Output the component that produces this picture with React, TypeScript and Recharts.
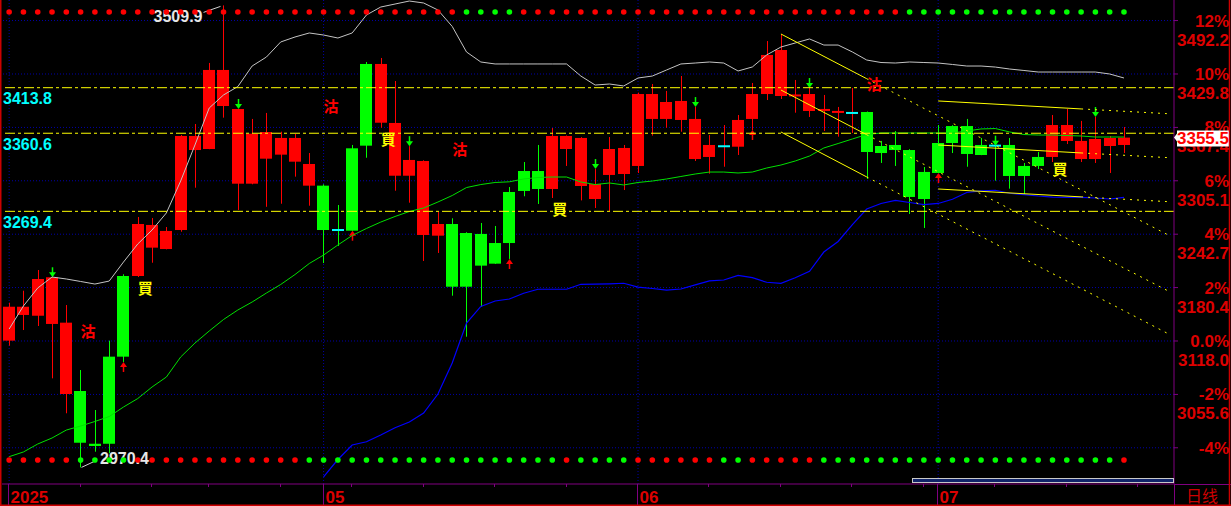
import React from "react";
import { ComposedChart, Bar, Line, XAxis, YAxis, ReferenceLine } from "recharts";

// daily candles, oldest first
const OPEN = [
  3118.4, 3148.4, 3147.5, 3137.9, 3056.1, 3059.6, 2998.0, 3099.7, 3193.9, 3193.9,
  3227.0, 3225.4, 3247.6, 3341.0, 3342.2, 3392.4, 3301.7, 3301.7, 3330.9, 3335.6,
  3327.4, 3299.4, 3299.4, 3247.6, 3343.0, 3441.5, 3372.9, 3311.0, 3311.0, 3241.8,
  3241.0, 3254.6, 3244.1, 3243.0, 3232.4, 3292.0, 3316.5, 3316.5, 3295.5, 3342.2,
  3299.0, 3283.8, 3311.9, 3313.0, 3322.4, 3377.3, 3377.3, 3376.1, 3330.5, 3332.9,
  3345.4, 3344.9, 3377.3, 3406.4, 3404.1, 3404.0, 3386.6, 3387.0, 3384.8, 3384.3,
  3385.4, 3345.7, 3346.9, 3341.0, 3315.4, 3349.2, 3369.0, 3369.0, 3346.9, 3346.1,
  3346.9, 3322.4, 3332.9, 3332.9, 3351.6, 3330.5, 3330.5, 3345.7, 3346.9,
];
const HIGH = [
  3162.7, 3176.7, 3200.9, 3192.4, 3160.0, 3084.1, 3037.4, 3118.4, 3195.9, 3262.8,
  3261.6, 3251.1, 3358.6, 3371.4, 3442.7, 3509.9, 3388.9, 3377.3, 3384.3, 3362.4,
  3359.7, 3337.5, 3301.0, 3276.8, 3346.9, 3443.8, 3448.5, 3421.6, 3345.5, 3329.0,
  3268.6, 3261.3, 3245.0, 3255.8, 3252.3, 3297.8, 3327.0, 3346.9, 3366.7, 3358.0,
  3356.0, 3318.8, 3356.2, 3346.9, 3408.0, 3418.1, 3410.0, 3427.5, 3391.2, 3358.6,
  3370.2, 3381.9, 3419.3, 3468.3, 3476.5, 3422.8, 3413.4, 3405.3, 3391.3, 3413.5,
  3386.0, 3351.6, 3363.2, 3342.0, 3321.2, 3370.2, 3370.0, 3377.3, 3355.1, 3346.1,
  3355.1, 3325.9, 3338.7, 3381.9, 3388.9, 3375.0, 3379.6, 3357.4, 3367.9,
];
const LOW = [
  3112.5, 3130.8, 3135.5, 3074.4, 3033.6, 2970.4, 2988.7, 2986.9, 3093.5, 3192.7,
  3209.4, 3225.0, 3245.6, 3297.0, 3342.0, 3378.8, 3271.0, 3301.0, 3274.7, 3278.3,
  3309.9, 3276.0, 3209.0, 3229.0, 3246.8, 3332.0, 3367.0, 3293.5, 3279.5, 3211.4,
  3220.8, 3170.9, 3123.0, 3158.0, 3208.0, 3213.8, 3287.0, 3278.0, 3285.0, 3322.4,
  3282.2, 3273.3, 3269.8, 3294.3, 3314.2, 3357.8, 3367.0, 3362.4, 3328.2, 3313.4,
  3321.5, 3335.2, 3364.4, 3399.4, 3400.6, 3384.6, 3379.6, 3363.2, 3356.6, 3360.9,
  3307.2, 3325.9, 3322.4, 3266.3, 3250.0, 3314.2, 3337.5, 3321.5, 3335.0, 3305.2,
  3295.9, 3289.7, 3318.9, 3327.0, 3348.0, 3327.0, 3325.9, 3314.2, 3337.5,
];
const CLOSE = [
  3158.0, 3158.0, 3190.4, 3192.4, 3139.4, 2999.2, 2995.4, 2998.0, 3099.7, 3254.6,
  3253.5, 3246.5, 3357.4, 3357.4, 3434.5, 3434.5, 3388.9, 3360.1, 3362.0, 3355.1,
  3355.1, 3324.7, 3247.6, 3247.6, 3246.8, 3346.1, 3441.5, 3372.6, 3329.4, 3328.2,
  3254.6, 3181.4, 3181.4, 3206.0, 3208.3, 3232.4, 3293.2, 3295.5, 3357.4, 3357.4,
  3355.1, 3301.3, 3342.2, 3343.4, 3406.4, 3406.4, 3397.1, 3398.3, 3377.3, 3346.9,
  3345.4, 3376.1, 3406.4, 3452.0, 3457.8, 3405.5, 3406.4, 3388.6, 3386.2, 3384.3,
  3338.7, 3337.5, 3341.0, 3286.2, 3283.8, 3314.2, 3349.2, 3336.4, 3335.2, 3346.1,
  3310.7, 3310.7, 3322.4, 3370.2, 3370.2, 3351.6, 3353.9, 3355.1, 3355.5,
];
// r red, g green, R cyan body + red wick, G cyan body + green wick
const CANDLE_COLOR = ["rrrrrggggr", "rrrrrrrrrr", "rrgGggrrrr", "rgggggggrr", "rrrrrrrrrr", "RrrrrrrrrR", "gggggggggG", "gggrrrrrr"];

const UPPER = [
  3132.0, 3158.9, 3179.9, 3192.7, 3190.4, 3187.5, 3184.5, 3188.0, 3210.2, 3231.3,
  3247.6, 3267.5, 3304.8, 3346.9, 3390.1, 3405.3, 3415.1, 3439.1, 3449.6, 3467.2,
  3473.0, 3477.7, 3475.3, 3471.8, 3477.7, 3498.7, 3508.0, 3511.5, 3515.0, 3512.7,
  3504.5, 3485.3, 3455.5, 3443.8, 3441.5, 3441.5, 3441.5, 3441.5, 3441.5, 3441.5,
  3427.4, 3416.9, 3418.1, 3415.8, 3425.1, 3427.4, 3434.5, 3441.5, 3442.6, 3443.8,
  3442.6, 3433.3, 3438.0, 3452.0, 3461.3, 3466.0, 3470.7, 3463.6, 3463.6, 3455.5,
  3446.1, 3443.2, 3442.6, 3443.8, 3443.2, 3442.6, 3440.9, 3439.1, 3439.1, 3437.9,
  3435.6, 3433.9, 3432.1, 3432.1, 3432.1, 3432.1, 3432.1, 3429.8, 3425.1,
];
const MID = [
  2982.9, 2988.4, 2997.7, 3004.7, 3014.0, 3018.7, 3024.0, 3029.8, 3040.9, 3050.8,
  3064.3, 3075.9, 3099.3, 3115.6, 3129.7, 3143.1, 3154.2, 3163.5, 3174.0, 3184.0,
  3195.6, 3208.5, 3218.4, 3230.1, 3241.2, 3249.4, 3256.9, 3263.4, 3269.2, 3273.3,
  3280.3, 3287.9, 3297.2, 3300.7, 3303.1, 3303.9, 3307.2, 3308.9, 3309.5, 3309.5,
  3303.7, 3300.7, 3302.5, 3300.2, 3303.1, 3304.8, 3307.2, 3310.1, 3313.0, 3315.3,
  3315.3, 3314.2, 3315.3, 3320.0, 3323.5, 3328.2, 3334.0, 3343.4, 3348.6, 3353.9,
  3359.1, 3360.9, 3360.9, 3360.9, 3360.9, 3360.9, 3360.9, 3363.2, 3365.6, 3366.1,
  3362.1, 3359.1, 3358.5, 3358.5, 3357.9, 3357.4, 3356.2, 3356.2, 3356.2,
];
const LOWER = [
  null, null, null, null, null, null, null, null, null, null,
  null, null, null, null, null, null, null, null, null, null,
  null, null, 2959.2, 2979.6, 2996.5, 3000.3, 3008.2, 3016.7, 3023.4, 3033.9,
  3056.1, 3092.3, 3139.0, 3158.3, 3164.7, 3167.0, 3173.8, 3178.4, 3178.4, 3178.4,
  3184.2, 3184.5, 3184.8, 3185.4, 3181.0, 3179.3, 3177.5, 3178.7, 3183.6, 3188.1,
  3189.2, 3194.7, 3191.9, 3186.6, 3185.4, 3191.9, 3199.4, 3221.9, 3234.2, 3254.0,
  3272.1, 3278.6, 3282.3, 3279.7, 3277.2, 3278.6, 3283.5, 3291.4, 3293.2, 3294.0,
  3290.5, 3288.9, 3287.3, 3286.1, 3285.8, 3285.8, 3285.0, 3283.8, 3285.8,
];

// signal rows at top and bottom of the panel
const TOP_SIGNAL = ["rrrrrrrrrr", "rrrrrrrrrr", "rrrrrrrrrr", "rrggggrrrr", "rrrrrrrrrr", "rrrrrrrrrr", "rrrggggggg", "ggggggggg"];
const BOTTOM_SIGNAL = ["rrrrrggggr", "rrrrrrrrrr", "rggggggggg", "gggggggggr", "ggggrrrrrr", "ggrrrrrggg", "gggggggggg", "ggggggggr"];
const SIGNAL_TOP = 3502.2;
const SIGNAL_BOTTOM = 2979.0;

const DOWN_ARROWS = [3, 16, 28, 41, 48, 56, 69, 76];
const UP_ARROWS = [8, 24, 35, 52, 65];
const SELL_MARKS = [{ i: 5, p: 3129.7 }, { i: 22, p: 3392.4 }, { i: 31, p: 3342.2 }, { i: 60, p: 3418.1 }];
const BUY_MARKS = [{ i: 9, p: 3179.9 }, { i: 26, p: 3353.9 }, { i: 38, p: 3272.1 }, { i: 73, p: 3318.8 }];

const LEVELS = [3413.8, 3360.6, 3269.4];
const TREND_SOLID = [
  [[54, 3476.5], [60, 3424.3]],
  [[54, 3411.1], [60, 3358.9]],
  [[54, 3362.1], [60, 3309.6]],
  [[65, 3398.3], [75, 3389.0]],
  [[65, 3346.9], [75, 3337.6]],
  [[65, 3295.5], [75, 3286.3]],
];
const TREND_DOTTED = [
  [[60, 3424.3], [81, 3242.6]],
  [[60, 3358.9], [81, 3177.2]],
  [[60, 3309.6], [81, 3127.3]],
  [[75, 3389.0], [81, 3383.5]],
  [[75, 3337.6], [81, 3332.2]],
  [[75, 3286.3], [81, 3280.8]],
];

const AXIS_TICKS = [2993.3, 3055.6, 3118.0, 3180.4, 3242.7, 3305.1, 3367.4, 3429.8, 3492.2];
const PCT_LABELS = ["-4%", "-2%", "0.0%", "2%", "4%", "6%", "8%", "10%", "12%"];
const PRICE_LABELS = ["", "3055.6", "3118.0", "3180.4", "3242.7", "3305.1", "3367.4", "3429.8", "3492.2"];
const MONTH_TICKS = [{ i: 0, label: "2025" }, { i: 22, label: "05" }, { i: 44, label: "06" }, { i: 65, label: "07" }];
const WEEK_TICKS = [5, 10, 14, 19, 24, 29, 34, 39, 49, 54, 59, 64, 69, 74, 79];

const SLOTS = 82;
const W = 1231;
const H = 506;
const RED = "#ff0000";
const GREEN = "#00ff00";
const CYAN = "#00ffff";
const YELLOW = "#ffff00";
const PURPLE = "#800080";
const GRID = "#0000a8";
const AXIS_RED = "#dd0000";
const NUM_FONT = "'Liberation Sans', Arial, sans-serif";
const CJK_FONT = "'Noto Sans CJK SC', sans-serif";

const colorSeq = CANDLE_COLOR.join("");
const topSeq = TOP_SIGNAL.join("");
const botSeq = BOTTOM_SIGNAL.join("");
const HI_IDX = HIGH.indexOf(Math.max(...HIGH));
const LO_IDX = LOW.indexOf(Math.min(...LOW));
const LAST = CLOSE[CLOSE.length - 1];

const rows = Array.from({ length: SLOTS }, (_, i) => {
  if (i >= OPEN.length) return { i };
  const s = SELL_MARKS.find((m) => m.i === i);
  const b = BUY_MARKS.find((m) => m.i === i);
  return {
    i,
    o: OPEN[i], h: HIGH[i], l: LOW[i], c: CLOSE[i], col: colorSeq[i],
    upper: UPPER[i], mid: MID[i], lower: LOWER[i],
    top: topSeq[i], bot: botSeq[i],
    sell: s ? s.p : null, buy: b ? b.p : null,
    down: DOWN_ARROWS.includes(i), up: UP_ARROWS.includes(i),
  };
});

function Candle(props: any) {
  const { x, y, width, height, payload } = props;
  if (!payload || payload.h == null || !(height > 0)) return <g />;
  const { o, h, l, c, col, i } = payload;
  const k = height / (h - l);
  const left = Math.round(x);
  const w = Math.round(width);
  const cx = left + Math.floor(w / 2) + 0.5;
  const yO = y + (h - o) * k;
  const yC = y + (h - c) * k;
  let top = Math.min(yO, yC);
  let bh = Math.abs(yO - yC);
  const doji = col === "R" || col === "G";
  if (doji) {
    top -= 1;
    bh = 2;
  } else if (bh < 2) {
    top -= (2 - bh) / 2;
    bh = 2;
  }
  const bodyFill = col === "r" ? RED : col === "g" ? GREEN : CYAN;
  const wick = col === "r" || col === "R" ? RED : GREEN;
  const yLow = y + height;
  return (
    <g>
      <line x1={cx} x2={cx} y1={y} y2={yLow} stroke={wick} strokeWidth={1} />
      <rect x={left} y={top} width={w} height={bh} fill={bodyFill} />
      {payload.down && (
        <g>
          <line x1={cx} x2={cx} y1={y - 10} y2={y - 3} stroke={GREEN} strokeWidth={1.5} />
          <polygon points={`${cx - 3.5},${y - 5} ${cx + 3.5},${y - 5} ${cx},${y}`} fill={GREEN} />
        </g>
      )}
      {payload.up && (
        <g>
          <line x1={cx} x2={cx} y1={yLow + 3} y2={yLow + 10} stroke={RED} strokeWidth={1.5} />
          <polygon points={`${cx - 3.5},${yLow + 5} ${cx + 3.5},${yLow + 5} ${cx},${yLow}`} fill={RED} />
        </g>
      )}
      {i === HI_IDX && (
        <g>
          <line x1={cx - 3} y1={y + 1} x2={cx - 20} y2={y + 7} stroke="#d0d0d0" />
          <text x={cx - 21} y={y + 16.5} textAnchor="end" fill="#e6e6e6" fontSize={16} fontWeight={700} fontFamily={NUM_FONT}>
            {h.toFixed(1)}
          </text>
        </g>
      )}
      {i === LO_IDX && (
        <g>
          <line x1={cx + 1} y1={yLow} x2={cx + 16} y2={yLow - 7} stroke="#d0d0d0" />
          <text x={cx + 19.5} y={yLow - 3.5} fill="#e6e6e6" fontSize={16} fontWeight={700} fontFamily={NUM_FONT}>
            {l.toFixed(1)}
          </text>
        </g>
      )}
    </g>
  );
}

const glyphDot = (ch: string, color: string) => (p: any) => {
  if (p.cy == null || p.value == null || isNaN(p.cy)) return <g key={p.index} />;
  return (
    <text key={p.index} x={p.cx} y={p.cy + 5.7} fill={color} fontSize={15} fontWeight={700} fontFamily={CJK_FONT}>
      {ch}
    </text>
  );
};

const signalDot = (field: "top" | "bot") => (p: any) => {
  const s = p.payload ? p.payload[field] : null;
  if (!s || p.cy == null || isNaN(p.cy)) return <g key={p.index} />;
  return <circle key={p.index} cx={p.cx} cy={p.cy} r={2.8} fill={s === "g" ? GREEN : RED} />;
};

const levelLabel = (text: string) => (p: any) => {
  const vb = p.viewBox || {};
  return (
    <text x={vb.x + 1} y={vb.y + 16.5} fill={CYAN} fontSize={16} fontWeight={700} fontFamily={NUM_FONT}>
      {text}
    </text>
  );
};

function PriceTick(p: any) {
  const v = p.payload.value;
  const y = p.y;
  if (v === LAST) {
    // current price flag, drawn after the scale labels so it covers them
    return (
      <g>
        <polygon
          points={`1174,${y} 1177,${y - 4} 1177,${y - 7} 1230,${y - 7} 1230,${y + 9} 1177,${y + 9} 1177,${y + 4}`}
          fill="#ffffff"
        />
        <text x={1229} y={y + 6.4} textAnchor="end" fill={RED} fontSize={17} fontWeight={700} fontFamily={NUM_FONT}>
          {LAST.toFixed(1)}
        </text>
      </g>
    );
  }
  let idx = 0;
  AXIS_TICKS.forEach((t, j) => {
    if (Math.abs(t - v) < Math.abs(AXIS_TICKS[idx] - v)) idx = j;
  });
  return (
    <g fontFamily={NUM_FONT} fontWeight={700} fontSize={17} fill={AXIS_RED}>
      <text x={1229} y={y + 6} textAnchor="end">{PCT_LABELS[idx]}</text>
      {PRICE_LABELS[idx] && (
        <text x={1229} y={y + 25} textAnchor="end">{PRICE_LABELS[idx]}</text>
      )}
    </g>
  );
}

function DateTick(p: any) {
  const { x, y, payload } = p;
  const m = MONTH_TICKS.find((t) => t.i === payload.value);
  const lx = Math.round(x) - 0.5;
  if (m) {
    return (
      <g>
        <line x1={lx} x2={lx} y1={y} y2={H} stroke={PURPLE} />
        <text x={lx + 2} y={503} fill={AXIS_RED} fontSize={17} fontWeight={700} fontFamily={NUM_FONT}>
          {m.label}
        </text>
      </g>
    );
  }
  return <line x1={lx} x2={lx} y1={y} y2={y + 3} stroke={PURPLE} />;
}

export default function App() {
  return (
    <div style={{ position: "absolute", left: 0, top: 0, width: W, height: H, background: "#000" }}>
      <ComposedChart width={W} height={H} data={rows} margin={{ top: 0, right: 0, bottom: 0, left: 2 }}>
        <XAxis
          dataKey="i"
          type="category"
          height={22}
          ticks={[...MONTH_TICKS.map((m) => m.i), ...WEEK_TICKS].sort((a, b) => a - b)}
          interval={0}
          tickLine={false}
          tickSize={0}
          tickMargin={0}
          axisLine={{ stroke: PURPLE }}
          tick={(p: any) => <DateTick {...p} />}
        />
        <YAxis
          orientation="right"
          width={57}
          type="number"
          domain={[2951.0, 3516.2]}
          allowDataOverflow
          ticks={[...AXIS_TICKS, LAST]}
          interval={0}
          tickSize={4}
          tickLine={{ stroke: PURPLE }}
          axisLine={{ stroke: PURPLE }}
          tick={(p: any) => <PriceTick {...p} />}
        />
        {AXIS_TICKS.map((v) => (
          <ReferenceLine key={"g" + v} y={v} stroke={GRID} strokeDasharray="1 2" zIndex={-50} />
        ))}
        {MONTH_TICKS.map((m) => (
          <ReferenceLine key={"m" + m.i} x={m.i} stroke={GRID} strokeDasharray="1 2" zIndex={-50} />
        ))}
        <Line dataKey="sell" stroke="none" dot={glyphDot("沽", RED)} activeDot={false} isAnimationActive={false} zIndex={250} />
        <Line dataKey="buy" stroke="none" dot={glyphDot("買", YELLOW)} activeDot={false} isAnimationActive={false} zIndex={250} />
        <Bar
          dataKey={(r: any) => (r.h == null ? null : [r.l, r.h])}
          barSize={12}
          shape={(p: any) => <Candle {...p} />}
          isAnimationActive={false}
          zIndex={300}
        />
        <Line dataKey="upper" stroke="#c4c4c4" strokeWidth={1} dot={false} activeDot={false} isAnimationActive={false} zIndex={400} />
        <Line dataKey="mid" stroke="#00e000" strokeWidth={1} dot={false} activeDot={false} isAnimationActive={false} zIndex={400} />
        <Line dataKey="lower" stroke="#0000ff" strokeWidth={1.2} dot={false} activeDot={false} isAnimationActive={false} zIndex={400} />
        {LEVELS.map((v) => (
          <ReferenceLine
            key={"lv" + v}
            y={v}
            stroke={YELLOW}
            strokeDasharray="10 3 3 3"
            label={levelLabel(v.toFixed(1))}
            zIndex={450}
          />
        ))}
        {TREND_SOLID.map((s, j) => (
          <ReferenceLine
            key={"ts" + j}
            segment={[{ x: s[0][0], y: s[0][1] }, { x: s[1][0], y: s[1][1] }]}
            stroke={YELLOW}
            strokeWidth={1}
            zIndex={450}
          />
        ))}
        {TREND_DOTTED.map((s, j) => (
          <ReferenceLine
            key={"td" + j}
            segment={[{ x: s[0][0], y: s[0][1] }, { x: s[1][0], y: s[1][1] }]}
            stroke={YELLOW}
            strokeWidth={1}
            strokeDasharray="2 5"
            zIndex={450}
          />
        ))}
        <Line dataKey={(r: any) => (r.top ? SIGNAL_TOP : null)} stroke="none" dot={signalDot("top")} activeDot={false} isAnimationActive={false} zIndex={600} />
        <Line dataKey={(r: any) => (r.bot ? SIGNAL_BOTTOM : null)} stroke="none" dot={signalDot("bot")} activeDot={false} isAnimationActive={false} zIndex={600} />
      </ComposedChart>
      <svg width={W} height={H} style={{ position: "absolute", left: 0, top: 0, pointerEvents: "none" }}>
        <line x1={1174.5} y1={484} x2={1174.5} y2={H} stroke={PURPLE} />
        <line x1={1174} y1={484.5} x2={W} y2={484.5} stroke={PURPLE} />
        <rect x={912.5} y={478.5} width={261} height={4} fill="#10246a" stroke="#c8c8c8" />
        <text x={1186} y={502} fill="#cc0000" fontSize={16} fontFamily={CJK_FONT}>日线</text>
        <line x1={0.75} y1={0} x2={0.75} y2={H} stroke="#cc0000" strokeWidth={1.5} />
        <line x1={1229.5} y1={0} x2={1229.5} y2={H} stroke="#cc0000" strokeWidth={1.5} />
        <line x1={0} y1={505.25} x2={W} y2={505.25} stroke="#cc0000" strokeWidth={1.5} />
      </svg>
    </div>
  );
}
